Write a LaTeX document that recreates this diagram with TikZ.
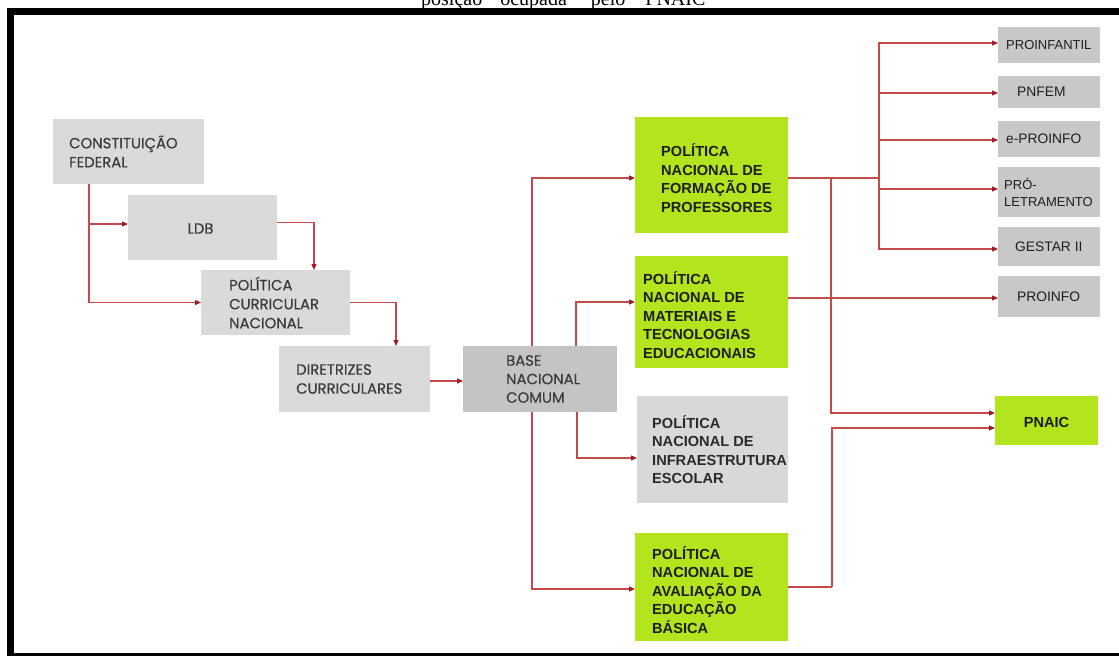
\documentclass[tikz,border=0pt]{standalone}
\usepackage{fontspec}
\usetikzlibrary{arrows.meta,calc}
\newfontfamily\gfont[FakeBold=0.5]{Poppins}
\newfontfamily\afont{Liberation Sans}
\newfontfamily\sfont{Liberation Serif}
\definecolor{lgray}{HTML}{DADADA}
\definecolor{dgray}{HTML}{C4C4C4}
\definecolor{rgray}{HTML}{C8C8C8}
\definecolor{igray}{HTML}{D8D8DA}
\definecolor{lgreen}{HTML}{B3E51E}
\definecolor{tgray}{HTML}{3C3C3C}
\definecolor{tdark}{HTML}{1E1E1E}
\definecolor{lred}{HTML}{C44A4A}
\definecolor{tred}{HTML}{A01C28}
\tikzset{
  boxc/.style={inner sep=0pt, outer sep=0pt, anchor=north west},
  gtxt/.style={font=\gfont\fontsize{14.8}{19}\selectfont, text=tgray, align=left, inner sep=0pt, anchor=west},
  btxt/.style={font=\afont\bfseries\fontsize{14.6}{18.5}\selectfont, text=tdark, align=left, inner sep=0pt, anchor=west},
  rtxt/.style={font=\afont\fontsize{13.8}{17}\selectfont, text=tdark, align=left, inner sep=0pt, anchor=west},
  conn/.style={draw=lred, line width=1.1pt, -{Triangle[length=6pt,width=5pt,color=tred]}},
  wire/.style={draw=lred, line width=1.1pt},
}
\begin{document}
\begin{tikzpicture}[x=1pt,y=-1pt]
\useasboundingbox (0,0) rectangle (1119,656);
\clip (0,0) rectangle (1119,656);
\fill[white] (0,0) rectangle (1119,656);
% caption (cut off at top, as in the reference)
\node[font=\sfont\fontsize{20}{20}\selectfont, anchor=base west, inner sep=0pt] (cap) at (421,5) {posição\hspace{18pt}ocupada\hspace{24pt}pelo\hspace{20pt}PNAIC};
% frame
\fill[black] (7,8) rectangle (1119,15);
\fill[black] (7,8) rectangle (14,656);
\fill[black] (7,653) rectangle (1119,656);
% left boxes
\node[boxc, fill=lgray, minimum width=151pt, minimum height=65pt] (cf) at (53,119) {};
\node[boxc, fill=lgray, minimum width=149pt, minimum height=65pt] (ldb) at (128,195) {};
\node[boxc, fill=lgray, minimum width=149pt, minimum height=65pt] (pcn) at (201,270) {};
\node[boxc, fill=lgray, minimum width=151pt, minimum height=66pt] (dir) at (279,346) {};
\node[boxc, fill=dgray, minimum width=154pt, minimum height=66pt] (base) at (463,346) {};
\node[gtxt] (cft) at ([xshift=16pt]cf.west) {CONSTITUIÇÃO\\FEDERAL};
\node[gtxt, anchor=center] (ldbt) at ([xshift=-2pt,yshift=-1pt]ldb.center) {LDB};
\node[gtxt] (pcnt) at ([xshift=28pt]pcn.west) {POLÍTICA\\CURRICULAR\\NACIONAL};
\node[gtxt] (dirt) at ([xshift=17pt]dir.west) {DIRETRIZES\\CURRICULARES};
\node[gtxt, font=\gfont\fontsize{14.8}{18.5}\selectfont] (baset) at ([xshift=43pt]base.west) {BASE\\NACIONAL\\COMUM};
% middle boxes
\node[boxc, fill=lgreen, minimum width=153pt, minimum height=116pt] (form) at (635,117) {};
\node[boxc, fill=lgreen, minimum width=153pt, minimum height=112pt] (mat) at (635,256) {};
\node[boxc, fill=igray, minimum width=151pt, minimum height=107pt] (infra) at (637,396) {};
\node[boxc, fill=lgreen, minimum width=153pt, minimum height=108pt] (aval) at (635,533) {};
\node[btxt] (formt) at ([xshift=26pt,yshift=-3pt]form.west) {POLÍTICA\\NACIONAL DE\\FORMAÇÃO DE\\PROFESSORES};
\node[btxt] (matt) at ([xshift=8pt,yshift=-3pt]mat.west) {POLÍTICA\\NACIONAL DE\\MATERIAIS E\\TECNOLOGIAS\\EDUCACIONAIS};
\node[btxt, text=tgray!70!black] (infrat) at ([xshift=15pt]infra.west) {POLÍTICA\\NACIONAL DE\\INFRAESTRUTURA\\ESCOLAR};
\node[btxt] (avalt) at ([xshift=17pt,yshift=-3pt]aval.west) {POLÍTICA\\NACIONAL DE\\AVALIAÇÃO DA\\EDUCAÇÃO\\BÁSICA};
% right boxes
\node[boxc, fill=lgreen, minimum width=103pt, minimum height=49pt] (pnaic) at (995,396) {};
\node[btxt, anchor=center] (pnaict) at ([yshift=-2pt]pnaic.center) {PNAIC};
\node[boxc, fill=rgray, minimum width=102pt, minimum height=36pt] (pinf) at (998,27) {};
\node[boxc, fill=rgray, minimum width=102pt, minimum height=32pt] (pnfem) at (998,76) {};
\node[boxc, fill=rgray, minimum width=102pt, minimum height=36pt] (epro) at (998,121) {};
\node[boxc, fill=rgray, minimum width=102pt, minimum height=50pt] (prol) at (998,167) {};
\node[boxc, fill=rgray, minimum width=102pt, minimum height=39pt] (gest) at (998,227) {};
\node[boxc, fill=rgray, minimum width=102pt, minimum height=41pt] (pinfo) at (998,276) {};
\node[rtxt, font=\afont\fontsize{13}{17}\selectfont] (pinft) at ([xshift=8pt]pinf.west) {PROINFANTIL};
\node[rtxt] (pnfemt) at ([xshift=19pt]pnfem.west) {PNFEM};
\node[rtxt] (eprot) at ([xshift=8pt]epro.west) {e-PROINFO};
\node[rtxt, font=\afont\fontsize{13}{17}\selectfont] (prolt) at ([xshift=6pt]prol.west) {PRÓ-\\LETRAMENTO};
\node[rtxt] (gestt) at ([xshift=17pt]gest.west) {GESTAR II};
\node[rtxt] (pinfot) at ([xshift=19pt]pinfo.west) {PROINFO};
% connectors left chain
\draw[conn] ([xshift=36pt]cf.south west) |- ([yshift=3.5pt]ldb.west);
\draw[conn] ([xshift=36pt]cf.south west) |- (pcn.west);
\draw[conn] ([yshift=5pt]ldb.east) -| ([xshift=113pt]pcn.north west);
\draw[conn] (pcn.east) -| ([xshift=117pt]dir.north west);
\draw[conn] ([yshift=-2pt]dir.east) -- ([yshift=-2pt]base.west);
% from base
\draw[conn] ([xshift=69pt]base.north west) |- ([yshift=-3pt]form.west);
\draw[conn] ([xshift=113pt]base.north west) |- ([yshift=10pt]mat.west);
\draw[conn] ([xshift=69pt]base.south west) |- ([yshift=-2pt]aval.west);
\draw[conn] ([xshift=114pt]base.south west) |- ([yshift=-8.5pt]infra.west);
% formação branches
\coordinate (tk) at (879,178);
\coordinate (jn) at (831,178);
\draw[wire] ([yshift=-3pt]form.east) -- (tk);
\draw[conn] (tk) |- ([yshift=2pt]pinf.west);
\draw[conn] (tk) |- ([yshift=-1pt]pnfem.west);
\draw[conn] (tk) |- ([yshift=-1pt]epro.west);
\draw[conn] (tk) |- ([yshift=3pt]prol.west);
\draw[conn] (tk) |- ([yshift=-2.5pt]gest.west);
\draw[conn] (jn) |- ([yshift=7.5pt]pnaic.west);
% materiais to proinfo
\draw[conn] ([yshift=14pt]mat.east) -- ([yshift=14pt]mat.east -| pinfo.west);
% avaliação to pnaic
\draw[wire] (aval.east) -- ([xshift=1pt]aval.east -| jn);
\draw[conn] ([xshift=1pt]aval.east -| jn) |- ([yshift=-7.5pt]pnaic.west);
\end{tikzpicture}
\end{document}
